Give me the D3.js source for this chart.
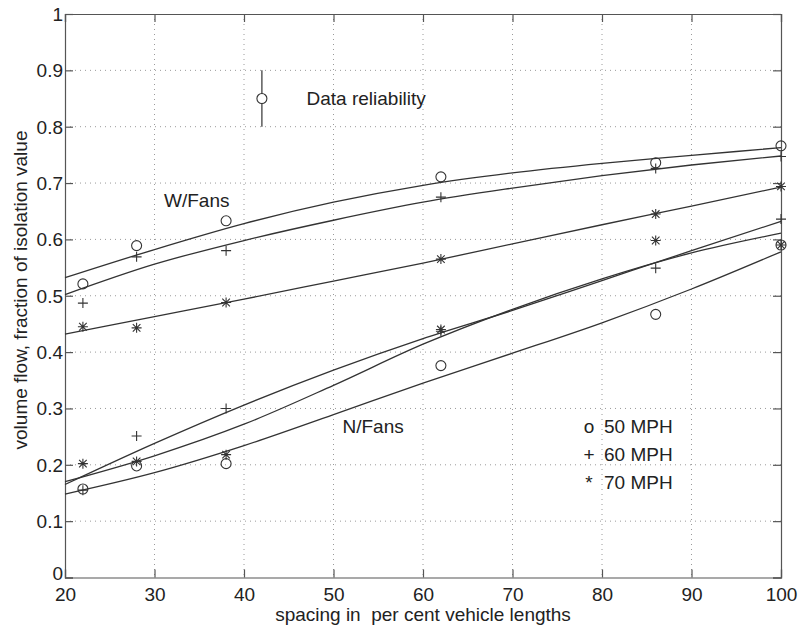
<!DOCTYPE html>
<html>
<head>
<meta charset="utf-8">
<script src="https://cdn.jsdelivr.net/npm/d3@7"></script>
<style>
  html, body { margin: 0; padding: 0; background: #fff; }
  svg { display: block; }
  text { font-family: "Liberation Sans", Arial, Helvetica, sans-serif; fill: #222; }
</style>
</head>
<body>
<svg id="chart" width="798" height="628"></svg>
<script>
// ---------------- data ----------------
const spacing = [22, 28, 38, 62, 86, 100];

// measured points, W/Fans
const wFans50 = [0.521, 0.589, 0.633, 0.711, 0.736, 0.766];
const wFans60 = [0.487, 0.569, 0.580, 0.675, 0.726, 0.747];
const wFans70 = [0.445, 0.443, 0.488, 0.565, 0.645, 0.694];

// measured points, N/Fans
const nFans50 = [0.157, 0.198, 0.202, 0.376, 0.467, 0.590];
const nFans60 = [0.155, 0.251, 0.300, 0.437, 0.549, 0.636];
const nFans70 = [0.202, 0.206, 0.218, 0.440, 0.598, 0.590];

// fitted curves, read at these x positions
const fitX = [20, 30, 40, 50, 60, 70, 80, 90, 100];
const fitW50 = [0.532, 0.582, 0.628, 0.666, 0.696, 0.718, 0.735, 0.749, 0.763];
const fitW60 = [0.502, 0.556, 0.598, 0.634, 0.666, 0.691, 0.713, 0.732, 0.748];
const fitW70 = [0.432, 0.463, 0.494, 0.526, 0.558, 0.592, 0.626, 0.659, 0.693];
const fitN50 = [0.148, 0.186, 0.234, 0.289, 0.345, 0.398, 0.452, 0.512, 0.578];
const fitN60 = [0.165, 0.238, 0.306, 0.368, 0.424, 0.474, 0.527, 0.580, 0.632];
const fitN70 = [0.170, 0.216, 0.272, 0.341, 0.414, 0.476, 0.530, 0.576, 0.611];

// reliability marker
const reliabilityX = 42;
const reliabilityY = 0.85;
const reliabilityRange = [0.80, 0.90];

// ticks
const xTicks = [20, 30, 40, 50, 60, 70, 80, 90, 100];
const yTicks = [0, 0.1, 0.2, 0.3, 0.4, 0.5, 0.6, 0.7, 0.8, 0.9, 1];
const yTickLabels = ["0", "0.1", "0.2", "0.3", "0.4", "0.5", "0.6", "0.7", "0.8", "0.9", "1"];

// legend
const legendSymbols = ["o", "+", "*"];
const legendLabels = ["50 MPH", "60 MPH", "70 MPH"];

// ---------------- drawing ----------------
const svg = d3.select("#chart");
const L = 65, R = 781, T = 14, B = 577.5;
const x = d3.scaleLinear().domain([20, 100]).range([L, R]);
const y = d3.scaleLinear().domain([0, 1]).range([B, T]);

const ink = "#333";
const fontSize = 19;

// grid
const grid = svg.append("g").attr("stroke", "#9a9a9a").attr("stroke-width", 1)
  .attr("stroke-dasharray", "1,4");
grid.selectAll(".gx").data(xTicks.slice(1, -1)).join("line")
  .attr("x1", d => x(d)).attr("x2", d => x(d)).attr("y1", T).attr("y2", B);
grid.selectAll(".gy").data(yTicks.slice(1, -1)).join("line")
  .attr("x1", L).attr("x2", R).attr("y1", d => y(d)).attr("y2", d => y(d));

// axes with inward ticks on all sides
const tickLen = 8;
const axBottom = svg.append("g").attr("transform", `translate(0,${B})`)
  .call(d3.axisBottom(x).tickValues(xTicks).tickSize(-tickLen).tickFormat(d3.format("d")));
const axTop = svg.append("g").attr("transform", `translate(0,${T})`)
  .call(d3.axisTop(x).tickValues(xTicks).tickSize(-tickLen).tickFormat(""));
const axLeft = svg.append("g").attr("transform", `translate(${L},0)`)
  .call(d3.axisLeft(y).tickValues(yTicks).tickSize(-tickLen).tickPadding(2)
    .tickFormat((d, i) => yTickLabels[i]));
const axRight = svg.append("g").attr("transform", `translate(${R},0)`)
  .call(d3.axisRight(y).tickValues(yTicks).tickSize(-tickLen).tickFormat(""));

[axBottom, axTop, axLeft, axRight].forEach(a => {
  a.select(".domain").attr("stroke", "#555").attr("stroke-width", 1.2);
  a.selectAll(".tick line").attr("stroke", "#555").attr("stroke-width", 1.2);
  a.selectAll("text").attr("font-size", fontSize).attr("fill", "#222")
    .attr("font-family", '"Liberation Sans", Arial, sans-serif');
});
axBottom.selectAll(".tick text").attr("dy", null).attr("y", 600.5 - B);
axLeft.selectAll(".tick text").attr("dy", d => d === 0 ? "0.1em" : "0.34em").attr("x", -2);

// fitted curves
const lineGen = d3.line().x(d => x(d[0])).y(d => y(d[1])).curve(d3.curveMonotoneX);
const fits = [fitW50, fitW60, fitW70, fitN50, fitN60, fitN70];
svg.append("g").selectAll("path").data(fits).join("path")
  .attr("d", f => lineGen(fitX.map((xx, i) => [xx, f[i]])))
  .attr("fill", "none").attr("stroke", ink).attr("stroke-width", 1.3);

// marker shapes
function drawMarker(g, type, cx, cy) {
  if (type === "o") {
    g.append("circle").attr("cx", cx).attr("cy", cy).attr("r", 5)
      .attr("fill", "none").attr("stroke", ink).attr("stroke-width", 1.1);
  } else if (type === "+") {
    g.append("path").attr("d", `M${cx - 5},${cy}H${cx + 5}M${cx},${cy - 5}V${cy + 5}`)
      .attr("stroke", ink).attr("stroke-width", 1.1).attr("fill", "none");
  } else {
    const a = 3.8;
    g.append("path").attr("d",
      `M${cx - 5},${cy}H${cx + 5}M${cx},${cy - 5}V${cy + 5}` +
      `M${cx - a},${cy - a}L${cx + a},${cy + a}M${cx - a},${cy + a}L${cx + a},${cy - a}`)
      .attr("stroke", ink).attr("stroke-width", 1.1).attr("fill", "none");
  }
}
const series = [
  ["o", wFans50], ["+", wFans60], ["*", wFans70],
  ["o", nFans50], ["+", nFans60], ["*", nFans70]
];
const mg = svg.append("g");
series.forEach(([type, vals]) => {
  vals.forEach((v, i) => drawMarker(mg, type, x(spacing[i]), y(v)));
});

// reliability indicator
svg.append("line").attr("x1", x(reliabilityX)).attr("x2", x(reliabilityX))
  .attr("y1", y(reliabilityRange[0])).attr("y2", y(reliabilityRange[1]))
  .attr("stroke", ink).attr("stroke-width", 1.2);
svg.append("circle").attr("cx", x(reliabilityX)).attr("cy", y(reliabilityY)).attr("r", 5)
  .attr("fill", "#fff").attr("stroke", ink).attr("stroke-width", 1.1);

// annotations
const ann = svg.append("g").attr("font-size", fontSize);
ann.append("text").attr("x", 306.5).attr("y", 105).text("Data reliability");
ann.append("text").attr("x", 164).attr("y", 206.5).text("W/Fans");
ann.append("text").attr("x", 342.5).attr("y", 433).text("N/Fans");

// legend
const leg = svg.append("g").attr("font-size", fontSize);
const legBase = [433, 461, 488.5];
leg.selectAll(".sym").data(legendSymbols).join("text")
  .attr("x", 589).attr("y", (d, i) => legBase[i]).attr("text-anchor", "middle").text(d => d);
leg.selectAll(".lab").data(legendLabels).join("text")
  .attr("x", 604).attr("y", (d, i) => legBase[i]).text(d => d);

// axis labels
svg.append("text").attr("x", (L + R) / 2).attr("y", 621).attr("text-anchor", "middle")
  .attr("font-size", fontSize).text("spacing in\u00a0 per cent vehicle lengths");
svg.append("text").attr("transform", "translate(27,290) rotate(-90)")
  .attr("text-anchor", "middle").attr("font-size", fontSize)
  .text("volume flow, fraction of isolation value");
</script>
</body>
</html>
